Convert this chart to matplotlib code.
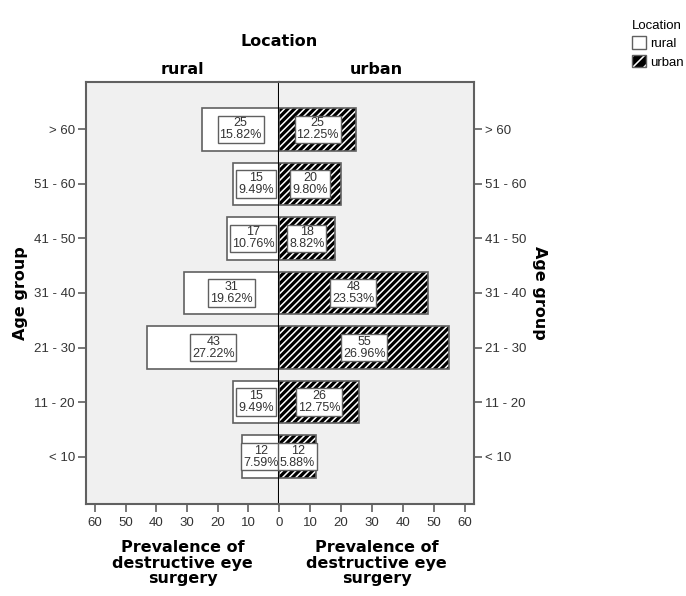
import numpy as np
import matplotlib
matplotlib.use("Agg")
import matplotlib.pyplot as plt
from matplotlib.patches import Patch

plt.rcParams['font.family'] = ['Liberation Sans', 'DejaVu Sans']
plt.rcParams['hatch.linewidth'] = 1.1

# data (bottom to top)
age_groups = ['< 10', '11 - 20', '21 - 30', '31 - 40', '41 - 50', '51 - 60', '> 60']
rural = [12, 15, 43, 31, 17, 15, 25]
urban = [12, 26, 55, 48, 18, 20, 25]
rural_pct = ['7.59%', '9.49%', '27.22%', '19.62%', '10.76%', '9.49%', '15.82%']
urban_pct = ['5.88%', '12.75%', '26.96%', '23.53%', '8.82%', '9.80%', '12.25%']

bg = '#f0f0f0'
frame = '#606060'
txt = '#333333'
bold_font = 'DejaVu Sans'
stripes = '/////'

fig = plt.figure(figsize=(6.86, 5.96), dpi=100)
ax_l = fig.add_axes([0.1254, 0.1544, 0.2813, 0.708])
ax_r = fig.add_axes([0.4067, 0.1544, 0.2843, 0.708], sharey=ax_l)

y = np.arange(len(age_groups))
h = 0.78

# rural bars
ax_l.barh(y, rural, height=h, color='white', edgecolor=frame, lw=1.2, zorder=2)
# urban bars: black with white stripes, then a border on top
ax_r.barh(y, urban, height=h, color='black', edgecolor='white', hatch=stripes, lw=0, zorder=2)
ax_r.barh(y, urban, height=h, color='none', edgecolor=frame, lw=1.2, zorder=3)

box = dict(boxstyle='square,pad=0.15', facecolor='white', edgecolor=frame, lw=1.0)
for yi, v, p in zip(y, rural, rural_pct):
    ax_l.text(v / 2, yi, f"{v}\n{p}", ha='center', va='center', fontsize=9,
              color=txt, linespacing=1.0, bbox=box, zorder=5)
for yi, v, p in zip(y, urban, urban_pct):
    ax_r.text(v / 2, yi, f"{v}\n{p}", ha='center', va='center', fontsize=9,
              color=txt, linespacing=1.0, bbox=box, zorder=5)

for ax in (ax_l, ax_r):
    ax.set_facecolor(bg)
    ax.set_ylim(-0.87, 6.87)
    for s in ax.spines.values():
        s.set_color(frame)
        s.set_linewidth(1.5)
    ax.tick_params(axis='both', colors=frame, labelcolor=txt, labelsize=9.5,
                   length=6, width=1.2, direction='out')
    ax.set_xlabel('Prevalence of\ndestructive eye\nsurgery', fontsize=11.5,
                  fontweight='bold', family=bold_font, linespacing=1.05, labelpad=8)

ax_l.set_xlim(63, 0)
ax_r.set_xlim(0, 63)
ax_l.set_xticks([60, 50, 40, 30, 20, 10, 0])
ax_r.set_xticks([10, 20, 30, 40, 50, 60])

ax_l.spines['right'].set_color('black')
ax_r.spines['left'].set_visible(False)

ax_l.set_yticks(y)
ax_l.set_yticklabels(age_groups)
ax_r.yaxis.tick_right()
ax_r.yaxis.set_label_position('right')
ax_r.tick_params(axis='y', labelright=True, pad=2)
ax_l.tick_params(axis='y', pad=2)

ax_l.set_ylabel('Age group', fontsize=11.5, fontweight='bold', family=bold_font, labelpad=4)
ax_r.set_ylabel('Age group', fontsize=11.5, fontweight='bold', family=bold_font,
                rotation=270, labelpad=15)

ax_l.set_title('rural', fontsize=11.5, fontweight='bold', family=bold_font, pad=6)
ax_r.set_title('urban', fontsize=11.5, fontweight='bold', family=bold_font, pad=6)
fig.text(0.4067, 1 - 42 / 596, 'Location', ha='center', va='center', fontsize=11.5,
         fontweight='bold', family=bold_font)

# legend
h_rural = Patch(facecolor='white', edgecolor=frame, lw=1.0)
h_urb_fill = Patch(facecolor='black', edgecolor='white', hatch='///', lw=0)
h_urb_edge = Patch(facecolor='none', edgecolor=frame, lw=1.0)
leg = fig.legend([h_rural, (h_urb_fill, h_urb_edge)], ['rural', 'urban'],
                 title='Location', loc='upper left', bbox_to_anchor=(0.911, 0.978),
                 frameon=False, fontsize=9.5, title_fontsize=9.5, borderpad=0,
                 handlelength=1.1, handleheight=1.1, handletextpad=0.3,
                 labelspacing=0.35, alignment='left')

fig.savefig('out.png', dpi=100)
